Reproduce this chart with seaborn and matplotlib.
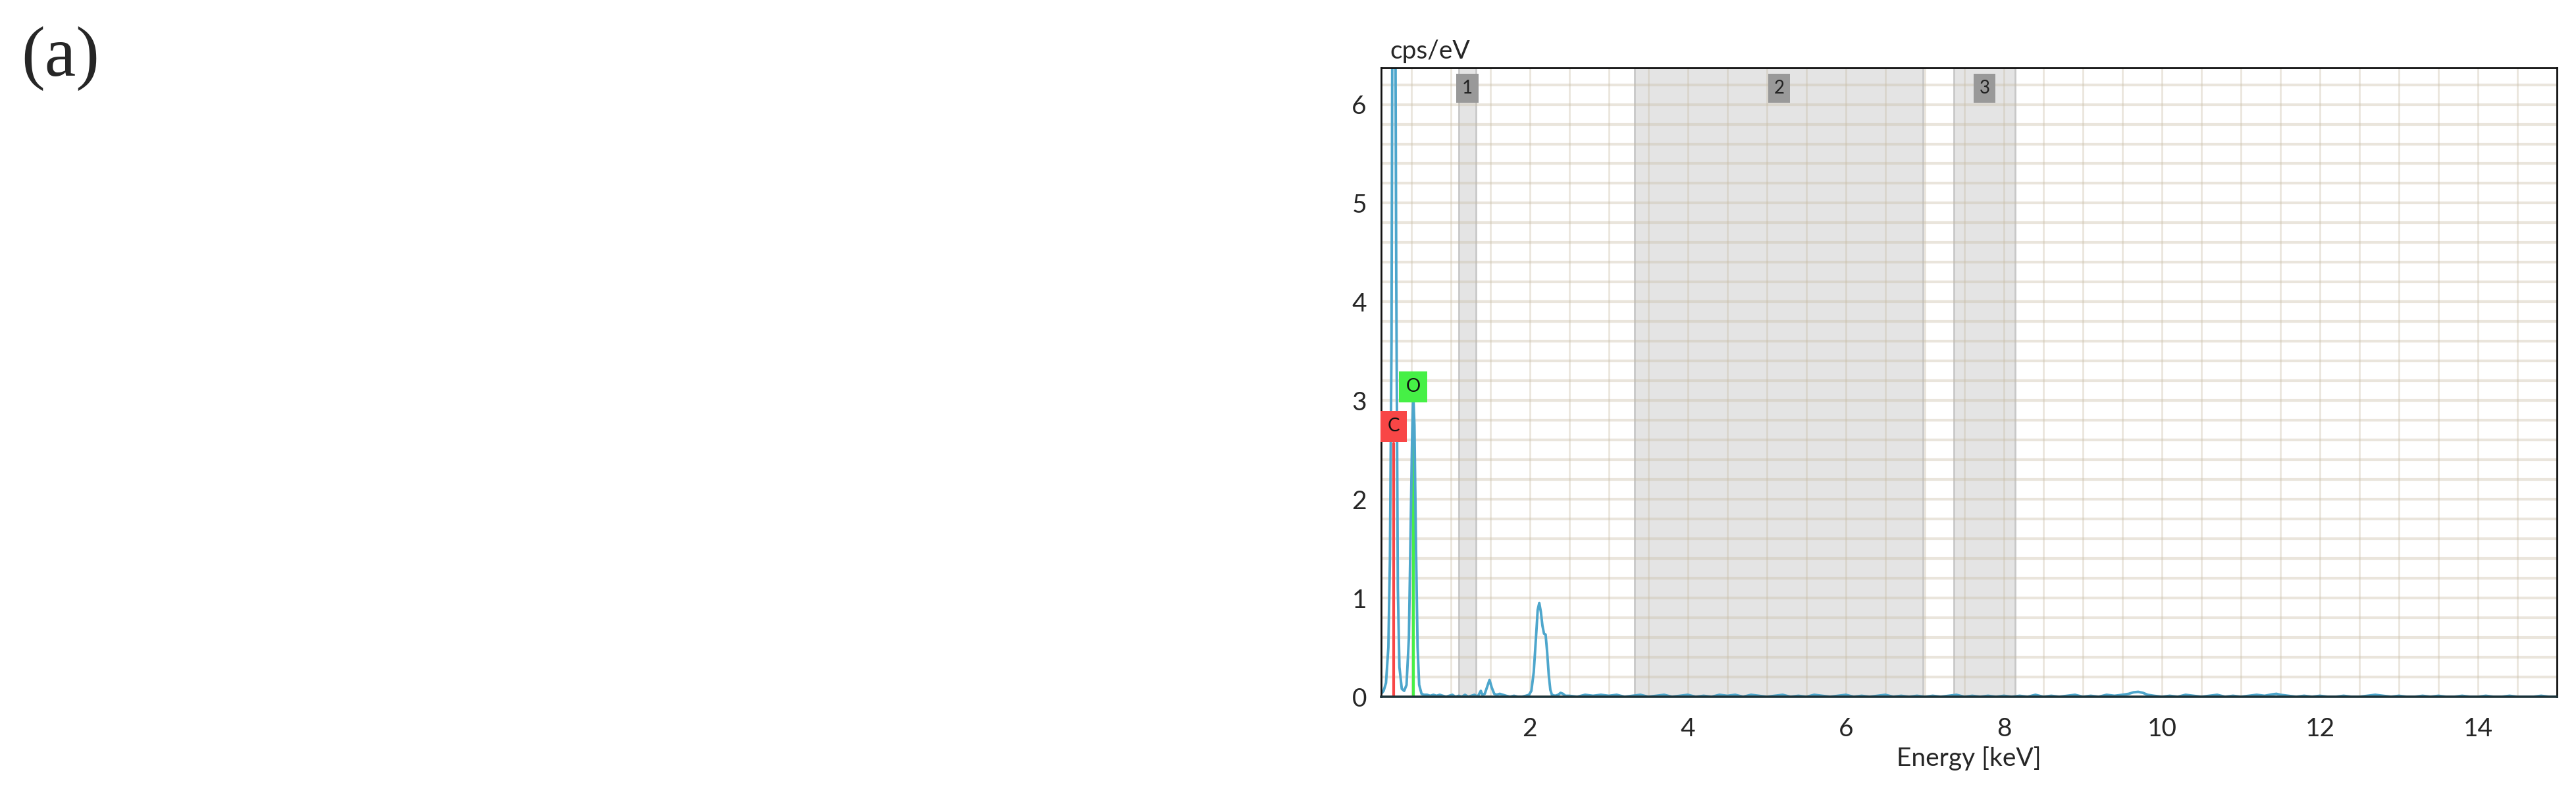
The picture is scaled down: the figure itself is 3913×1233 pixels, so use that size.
import numpy as np
import pandas as pd
import matplotlib
matplotlib.use("Agg")
import matplotlib.pyplot as plt
from matplotlib.ticker import MultipleLocator
import seaborn as sns

# spectrum (keV, cps/eV)
co_energy = [0.12, 0.15, 0.18, 0.21, 0.23, 0.25, 0.27, 0.28, 0.29, 0.31, 0.33, 0.35,
             0.38, 0.41, 0.44, 0.47, 0.49, 0.51, 0.525, 0.54, 0.56, 0.58, 0.60, 0.63, 0.66]
co_cps = [0.03, 0.06, 0.14, 0.5, 1.4, 3.6, 9.8, 10.2, 9.0, 4.2, 1.1, 0.3,
          0.08, 0.06, 0.12, 0.6, 1.6, 2.6, 3.05, 2.75, 1.5, 0.5, 0.12, 0.03, 0.02]

low_energy = [0.70, 0.74, 0.78, 0.82, 0.86, 0.90, 0.94, 0.98, 1.02, 1.06, 1.10, 1.14,
              1.18, 1.22, 1.26, 1.30, 1.34, 1.36, 1.38, 1.40, 1.43, 1.46, 1.49, 1.52,
              1.55, 1.58, 1.62, 1.66, 1.70, 1.75, 1.80, 1.85, 1.90, 1.95, 1.99]
low_cps = [0.02, 0.01, 0.02, 0.01, 0.02, 0.01, 0.0, 0.01, 0.02, 0.0, 0.01, 0.0,
           0.02, 0.0, 0.01, 0.02, 0.0, 0.03, 0.06, 0.02, 0.03, 0.10, 0.17, 0.09,
           0.03, 0.02, 0.03, 0.02, 0.01, 0.0, 0.01, 0.0, 0.0, 0.01, 0.02]

aum_energy = [2.02, 2.05, 2.08, 2.10, 2.12, 2.14, 2.16, 2.18, 2.20, 2.22, 2.24, 2.26,
              2.28, 2.32, 2.36, 2.39, 2.42, 2.45]
aum_cps = [0.06, 0.25, 0.62, 0.88, 0.95, 0.86, 0.72, 0.64, 0.63, 0.45, 0.22, 0.07,
           0.02, 0.01, 0.02, 0.04, 0.03, 0.01]

mid_energy = [2.5, 2.6, 2.7, 2.8, 2.9, 3.0, 3.1, 3.2, 3.3, 3.4, 3.5, 3.6, 3.7, 3.8, 3.9,
              4.0, 4.1, 4.2, 4.3, 4.4, 4.5, 4.6, 4.7, 4.8, 4.9, 5.0, 5.1, 5.2, 5.3, 5.4,
              5.5, 5.6, 5.7, 5.8, 5.9, 6.0, 6.1, 6.2, 6.3, 6.4, 6.5, 6.6, 6.7, 6.8, 6.9,
              7.0, 7.1, 7.2, 7.3, 7.4, 7.5, 7.6, 7.7, 7.8, 7.9, 8.0, 8.1, 8.2, 8.3, 8.4,
              8.5, 8.6, 8.7, 8.8, 8.9, 9.0, 9.1, 9.2, 9.3, 9.4, 9.5]
mid_cps = [0.01, 0.0, 0.02, 0.01, 0.02, 0.01, 0.02, 0.0, 0.01, 0.02, 0.0, 0.01, 0.02, 0.0, 0.01,
           0.02, 0.0, 0.01, 0.0, 0.02, 0.01, 0.02, 0.0, 0.02, 0.01, 0.0, 0.01, 0.02, 0.0, 0.01,
           0.0, 0.02, 0.01, 0.0, 0.01, 0.02, 0.0, 0.01, 0.0, 0.01, 0.02, 0.0, 0.01, 0.0, 0.01,
           0.0, 0.01, 0.0, 0.01, 0.02, 0.0, 0.01, 0.0, 0.01, 0.0, 0.01, 0.0, 0.01, 0.0, 0.02,
           0.0, 0.01, 0.0, 0.01, 0.02, 0.0, 0.01, 0.0, 0.02, 0.01, 0.02]

high_energy = [9.58, 9.64, 9.70, 9.76, 9.82, 9.9, 10.0, 10.1, 10.2, 10.3, 10.4, 10.5,
               10.6, 10.7, 10.8, 10.9, 11.0, 11.1, 11.2, 11.3, 11.4, 11.45, 11.5, 11.6,
               11.7, 11.8, 11.9, 12.0, 12.1, 12.2, 12.3, 12.4, 12.5, 12.6, 12.7, 12.8,
               12.9, 13.0, 13.1, 13.2, 13.3, 13.4, 13.5, 13.6, 13.7, 13.8, 13.9, 14.0,
               14.1, 14.2, 14.3, 14.4, 14.5, 14.6, 14.7, 14.8, 14.9, 15.0]
high_cps = [0.03, 0.045, 0.05, 0.04, 0.02, 0.01, 0.0, 0.01, 0.0, 0.02, 0.01, 0.0,
            0.01, 0.02, 0.0, 0.01, 0.0, 0.01, 0.02, 0.01, 0.025, 0.03, 0.02, 0.01,
            0.0, 0.01, 0.0, 0.01, 0.0, 0.0, 0.01, 0.0, 0.0, 0.01, 0.02, 0.01,
            0.0, 0.01, 0.0, 0.0, 0.01, 0.0, 0.01, 0.0, 0.0, 0.01, 0.0, 0.0,
            0.01, 0.0, 0.0, 0.01, 0.0, 0.0, 0.0, 0.01, 0.0, 0.0]

# element markers
elements = ["C", "O"]
element_energy = [0.277, 0.525]
element_height = [2.57, 2.97]
element_colors = ["#f84646", "#46f046"]

# shaded regions
region_names = ["1", "2", "3"]
region_lo = [1.10, 3.33, 7.37]
region_hi = [1.32, 6.98, 8.14]

df = pd.DataFrame({
    "energy": co_energy + low_energy + aum_energy + mid_energy + high_energy,
    "cps": co_cps + low_cps + aum_cps + mid_cps + high_cps,
})

sns.set_style("white")
plt.rcParams["font.family"] = ["Lato", "DejaVu Sans"]

fig = plt.figure(figsize=(39.13, 12.33), dpi=100)
ax = fig.add_axes([0.5362, 0.1419, 0.4564, 0.7745])

for lo, hi in zip(region_lo, region_hi):
    ax.axvspan(lo, hi, facecolor="#e4e4e4", edgecolor="#c8c8c8", lw=2, zorder=0.1)

for e, h, c in zip(element_energy, element_height, element_colors):
    ax.plot([e, e], [0, h], color=c, lw=3, zorder=1.5)

sns.lineplot(data=df, x="energy", y="cps", color="#4da6cc", lw=2.8,
             estimator=None, sort=False, ax=ax, zorder=2)

for name, e, h, c in zip(elements, element_energy, element_height, element_colors):
    ax.text(e, h + 0.17, name, ha="center", va="center", fontsize=20, color="#111111",
            bbox=dict(boxstyle="square,pad=0.38", fc=c, ec="none"), zorder=3)

for name, lo, hi in zip(region_names, region_lo, region_hi):
    ax.text((lo + hi) / 2, 6.165, name, ha="center", va="center", fontsize=20,
            color="#222222", bbox=dict(boxstyle="square,pad=0.32", fc="#999999", ec="none"),
            zorder=3)

ax.set_xlim(0.12, 15.0)
ax.set_ylim(0, 6.37)
ax.xaxis.set_major_locator(MultipleLocator(2))
ax.xaxis.set_minor_locator(MultipleLocator(0.5))
ax.yaxis.set_major_locator(MultipleLocator(1))
ax.yaxis.set_minor_locator(MultipleLocator(0.2))

ax.set_axisbelow(True)
ax.xaxis.grid(True, which="both", color="#c8bda5", alpha=0.38, lw=2.0)
ax.yaxis.grid(True, which="both", color="#c8bda5", alpha=0.38, lw=3.0)

ax.tick_params(axis="x", which="major", length=14, width=1.8, color="#111111",
               labelsize=28, pad=8)
ax.tick_params(axis="x", which="minor", length=8, width=1.8, color="#555555")
ax.tick_params(axis="y", which="major", length=9, width=1.8, color="#111111",
               labelsize=28, pad=7)
ax.tick_params(axis="y", which="minor", length=9, width=1.8, color="#555555")

for side in ["left", "top", "right"]:
    ax.spines[side].set_color("#111111")
    ax.spines[side].set_linewidth(2.0)
ax.spines["bottom"].set_color("#1d3238")
ax.spines["bottom"].set_linewidth(2.6)

ax.set_xlabel("Energy [keV]", fontsize=28, labelpad=6)
ax.set_ylabel("")
fig.text(0.5395, 0.9278, "cps/eV", fontsize=28, va="baseline", ha="left")
fig.text(0.0082, 0.9067, "(a)", fontsize=77, family="Liberation Serif",
         va="baseline", ha="left")

fig.savefig("out.png", dpi=100)
